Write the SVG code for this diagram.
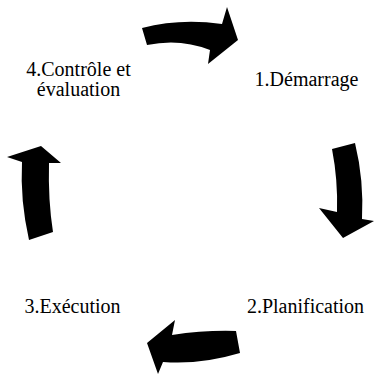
<svg xmlns="http://www.w3.org/2000/svg" width="374" height="375" viewBox="0 0 374 375">
<style>
.lbl{font-family:"Liberation Serif","Times New Roman",serif;font-size:20px;fill:#000;text-anchor:middle}
.arr{fill:#000;stroke:none}
</style>
<rect width="374" height="375" fill="#fff"/>
<g id="node1"><text class="lbl" x="306.5" y="86">1.Démarrage</text></g>
<g id="node2"><text class="lbl" x="305.5" y="313">2.Planification</text></g>
<g id="node3"><text class="lbl" x="72.5" y="313">3.Exécution</text></g>
<g id="node4"><text class="lbl" x="78.5" y="76">4.Contrôle et</text><text class="lbl" x="78.5" y="96">évaluation</text></g>
<g id="connectors">
<path class="arr" d="M142,28 Q180,18 222,24 L227,7 L238,40 L208,64 L210,50 Q180,38 147,45 Z"/>
<path class="arr" d="M332,149 Q338,180 337,212 L319,208 L343,238 L374,221 L362,219 Q364,180 355,143 Z"/>
<path class="arr" d="M240,353 Q200,365 163,362 L158,374 L147,343 L175,320 L172,335 Q205,330 236,331 Z"/>
<path class="arr" d="M29,240 Q20,200 22,162 L7,157 L41,146 L61,163 L49,163 Q48,200 53,232 Z"/>
</g>
</svg>
